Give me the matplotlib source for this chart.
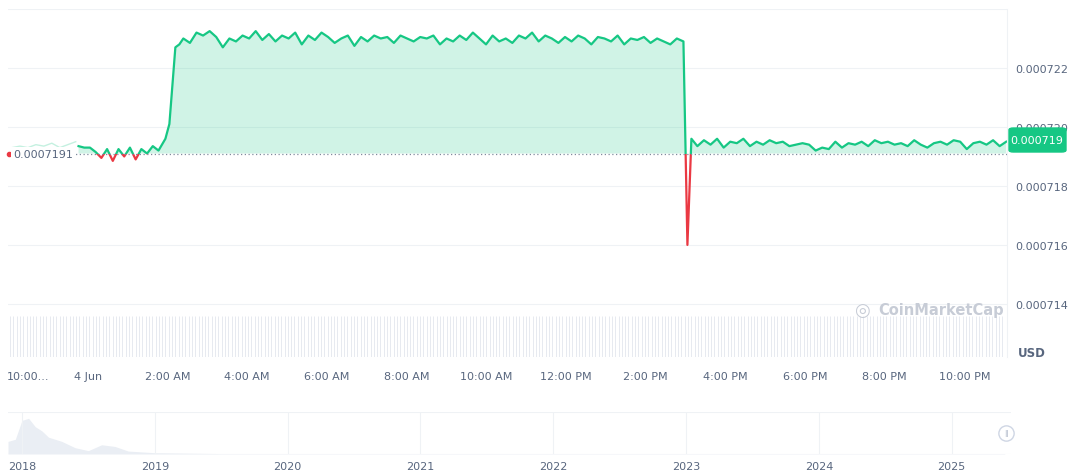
import numpy as np
import matplotlib.pyplot as plt
from matplotlib.patches import FancyBboxPatch, Rectangle

# hours relative to 4 Jun 00:00
pre_vals = [7.1935, 7.1930, 7.1930, 7.1915, 7.1895, 7.1925, 7.1885, 7.1925, 7.1900, 7.1930, 7.1890, 7.1925, 7.1910, 7.1935, 7.1920]
rise_vals = [7.1960, 7.2010, 7.2270, 7.2280]
plateau_vals = [7.2300, 7.2285, 7.2320, 7.2310, 7.2325, 7.2305, 7.2270, 7.2300, 7.2290, 7.2310, 7.2300, 7.2325, 7.2295, 7.2315, 7.2290,
                7.2310, 7.2300, 7.2320, 7.2280, 7.2310, 7.2295, 7.2320, 7.2305, 7.2285, 7.2300, 7.2310, 7.2275, 7.2305, 7.2290, 7.2310,
                7.2300, 7.2305, 7.2285, 7.2310, 7.2300, 7.2290, 7.2305, 7.2300, 7.2310, 7.2280, 7.2300, 7.2290, 7.2310, 7.2295, 7.2320,
                7.2300, 7.2280, 7.2310, 7.2290, 7.2300, 7.2285, 7.2310, 7.2300, 7.2320, 7.2290, 7.2310, 7.2300, 7.2285, 7.2305, 7.2290,
                7.2310, 7.2300, 7.2280, 7.2305, 7.2300, 7.2290, 7.2310, 7.2280, 7.2300, 7.2295, 7.2305, 7.2285, 7.2300, 7.2290, 7.2280,
                7.2300, 7.2290]
drop_vals = [7.1600, 7.1960]
tail_vals = [7.1935, 7.1955, 7.1940, 7.1960, 7.1930, 7.1950, 7.1945, 7.1960, 7.1935, 7.1950, 7.1940, 7.1955, 7.1945, 7.1950, 7.1935,
             7.1940, 7.1945, 7.1940, 7.1920, 7.1930, 7.1925, 7.1950, 7.1930, 7.1945, 7.1940, 7.1950, 7.1935, 7.1955, 7.1945, 7.1950,
             7.1940, 7.1945, 7.1935, 7.1955, 7.1940, 7.1930, 7.1945, 7.1950, 7.1940, 7.1955, 7.1950, 7.1925, 7.1945, 7.1950, 7.1940,
             7.1955, 7.1935, 7.1950]
faint_vals = [7.1930, 7.1935, 7.1930, 7.1940, 7.1935, 7.1945, 7.1930, 7.1940, 7.1950]
baseline = 0.0007191
yticks = [0.000714, 0.000716, 0.000718, 0.000720, 0.000722]
xtick_hours = [-1.5, 0, 2, 4, 6, 8, 10, 12, 14, 16, 18, 20, 22]
xtick_labels = ["10:00...", "4 Jun", "2:00 AM", "4:00 AM", "6:00 AM", "8:00 AM", "10:00 AM", "12:00 PM", "2:00 PM", "4:00 PM", "6:00 PM", "8:00 PM", "10:00 PM"]
years = [2018, 2019, 2020, 2021, 2022, 2023, 2024, 2025]

vals = np.array(pre_vals + rise_vals + plateau_vals + drop_vals + tail_vals) * 1e-4
t_pre = -0.23 + np.arange(len(pre_vals)) * (2.15 / len(pre_vals))
t_rise = np.array([1.95, 2.05, 2.2, 2.3])
t_plat = np.linspace(2.4, 14.95, len(plateau_vals))
t_drop = np.array([15.05, 15.15])
t_tail = np.linspace(15.3, 23.05, len(tail_vals))
t = np.concatenate([t_pre, t_rise, t_plat, t_drop, t_tail])

GREEN = "#16c784"; RED = "#ea3943"; GRID = "#eff2f5"; TXT = "#58667e"
fig = plt.figure(figsize=(10.72, 4.77), dpi=100)
W, H = 1072, 477
x0, x1 = -2.0, 23.07
ylo, yhi = 0.0007122, 0.0007240
ax = fig.add_axes([8/W, 1-358/H, 999/W, 348/H])
ax.set_xlim(x0, x1); ax.set_ylim(ylo, yhi)
ax.fill_between(t, vals, baseline, where=vals >= baseline, color=GREEN, alpha=0.2, lw=0, interpolate=True)
above = Rectangle((x0, baseline), x1 - x0, yhi - baseline, transform=ax.transData, visible=False)
below = Rectangle((x0, ylo), x1 - x0, baseline - ylo, transform=ax.transData, visible=False)
ax.add_patch(above); ax.add_patch(below)
lg, = ax.plot(t, vals, color=GREEN, lw=1.6)
lr, = ax.plot(t, vals, color=RED, lw=1.6)
lg.set_clip_path(above); lr.set_clip_path(below)
tfa = np.linspace(-1.9, -0.3, len(faint_vals))
ax.plot(tfa, np.array(faint_vals)*1e-4, color=GREEN, lw=1, alpha=0.25)
ax.axhline(baseline, color="#808a9d", ls=(0, (1, 2)), lw=0.9)
for y in yticks + [0.000724]:
    ax.axhline(y, color=GRID, lw=0.8, zorder=0)
vol_t = np.arange(-1.95, 23.0, 0.083)
ax.vlines(vol_t, ylo, 0.0007136, color="#e3e7ee", lw=0.6, zorder=0)
for s in ["top", "left", "bottom"]:
    ax.spines[s].set_visible(False)
ax.spines["right"].set_color(GRID)
ax.yaxis.tick_right()
ax.set_yticks(yticks)
ax.set_yticklabels(["%.6f" % v for v in yticks])
ax.tick_params(axis="y", length=0, pad=6, labelsize=8, labelcolor=TXT)
ax.set_xticks(xtick_hours)
ax.set_xticklabels(xtick_labels)
ax.tick_params(axis="x", length=0, pad=10, labelsize=8, labelcolor=TXT)
ax.text(x0+0.12, baseline, "0.0007191", fontsize=8, color=TXT, va="center", ha="left",
        bbox=dict(facecolor="white", edgecolor="none", pad=1))
ax.plot([x0+0.02], [baseline], marker="o", ms=3, color=RED, clip_on=False)
fig.text(1018/W, 1-354/H, "USD", fontsize=8.5, color=TXT, weight="bold", va="center")
fig.text(862/W, 1-311/H, "◎", fontsize=13, color="#c7ccd6", va="center", ha="center")
fig.text(878/W, 1-311/H, "CoinMarketCap", fontsize=10.5, color="#c7ccd6", weight="bold", va="center")
fig.patches.append(FancyBboxPatch((1009/W, 1-153/H), 57/W, 24/H, boxstyle="round,pad=0,rounding_size=0.004",
                                  transform=fig.transFigure, color=GREEN))
fig.text(1037/W, 1-141/H, "0.000719", fontsize=8, color="white", ha="center", va="center")
# navigator
nav = fig.add_axes([8/W, 1-455/H, 1003/W, 42/H])
nav.set_xlim(2017.895, 2025.447); nav.set_ylim(0, 1)
nv_x = [2017.895, 2017.95, 2018.0, 2018.05, 2018.1, 2018.15, 2018.2, 2018.3, 2018.4, 2018.5, 2018.6, 2018.7, 2018.8, 2019.0, 2019.5, 2025.4]
nv_y = [0.3, 0.35, 0.8, 0.85, 0.65, 0.55, 0.4, 0.3, 0.15, 0.08, 0.22, 0.18, 0.07, 0.03, 0.01, 0.01]
nav.fill_between(nv_x, nv_y, 0, color="#eaeef4", lw=0)
for y in years:
    nav.axvline(y, color=GRID, lw=0.8)
for s in nav.spines.values():
    s.set_visible(False)
nav.axhline(1, color=GRID, lw=0.8); nav.axhline(0, color=GRID, lw=0.8)
nav.set_yticks([])
nav.set_xticks(years); nav.set_xticklabels([str(y) for y in years])
nav.tick_params(axis="x", length=0, pad=5, labelsize=8, labelcolor=TXT)
nav.plot([2025.41], [0.5], marker="o", ms=11, mfc="white", mec="#cfd6e4", clip_on=False)
nav.text(2025.41, 0.5, "||", fontsize=5, color="#a6b0c3", ha="center", va="center")
fig.savefig("out.png", dpi=100, facecolor="white")
